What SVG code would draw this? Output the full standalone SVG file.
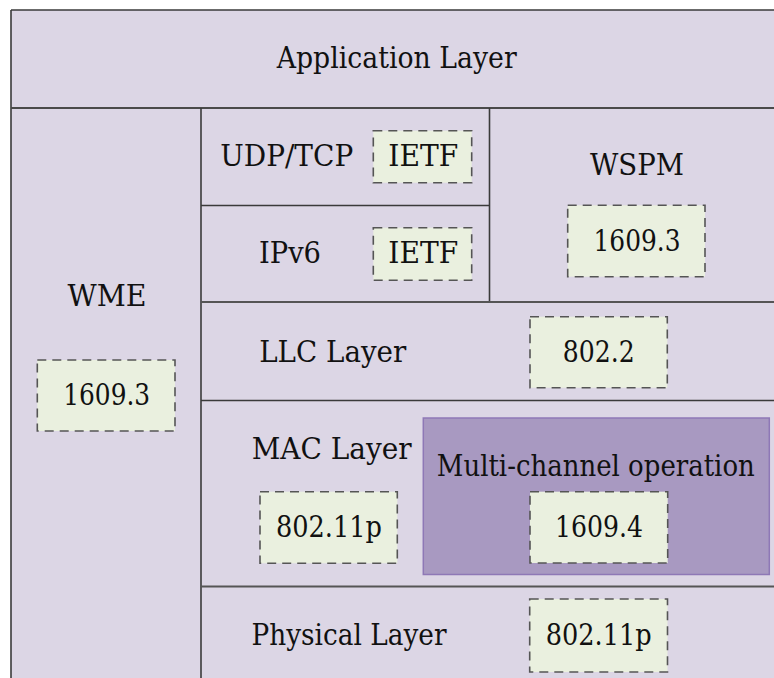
<svg xmlns="http://www.w3.org/2000/svg" width="774" height="678" viewBox="0 0 774 678">
  <style>
    .bg { fill: #DCD6E5; }
    .div { stroke: #3a3a3a; stroke-width: 1.6; fill: none; }
    .std { fill: #EAF0DF; stroke: #555555; stroke-width: 1.6; stroke-dasharray: 9 6; }
    .mco { fill: #A899C1; stroke: #8E78B6; stroke-width: 1.5; }
    text { font-family: "DejaVu Serif", serif; font-size: 30px; fill: #111111; text-anchor: middle; }
  </style>
  <rect class="bg" x="11" y="10" width="763" height="668"/>
  <g id="connectors">
    <line class="div" x1="11" y1="10" x2="774" y2="10"/>
    <line class="div" x1="11" y1="10" x2="11" y2="678"/>
    <line class="div" x1="11" y1="108" x2="774" y2="108" style="stroke:#4a4a4a;stroke-width:2"/>
    <line class="div" x1="201" y1="108" x2="201" y2="678"/>
    <line class="div" x1="201" y1="205.5" x2="489.5" y2="205.5"/>
    <line class="div" x1="489.5" y1="108" x2="489.5" y2="302"/>
    <line class="div" x1="201" y1="302" x2="774" y2="302" style="stroke:#555555;stroke-width:2"/>
    <line class="div" x1="201" y1="400.5" x2="774" y2="400.5"/>
    <line class="div" x1="201" y1="586.5" x2="774" y2="586.5" style="stroke:#555555;stroke-width:2"/>
  </g>
  <g id="application">
    <text x="396.7" y="68.3" textLength="240" lengthAdjust="spacingAndGlyphs">Application Layer</text>
  </g>
  <g id="wme">
    <text x="107" y="306" textLength="79" lengthAdjust="spacingAndGlyphs">WME</text>
    <rect class="std" x="37.3" y="360" width="137.7" height="71"/>
    <text x="106.7" y="405" textLength="87" lengthAdjust="spacingAndGlyphs">1609.3</text>
  </g>
  <g id="udptcp">
    <text x="286.7" y="165.7" textLength="133" lengthAdjust="spacingAndGlyphs">UDP/TCP</text>
    <rect class="std" x="373.3" y="130.7" width="98.4" height="52"/>
    <text x="423.3" y="165.7" textLength="70" lengthAdjust="spacingAndGlyphs">IETF</text>
  </g>
  <g id="ipv6">
    <text x="290" y="263.3" textLength="62" lengthAdjust="spacingAndGlyphs">IPv6</text>
    <rect class="std" x="373.3" y="227.7" width="98.4" height="52.6"/>
    <text x="423.3" y="263.3" textLength="70" lengthAdjust="spacingAndGlyphs">IETF</text>
  </g>
  <g id="wspm">
    <text x="637" y="175" textLength="94" lengthAdjust="spacingAndGlyphs">WSPM</text>
    <rect class="std" x="567.7" y="205.3" width="137.3" height="71.4"/>
    <text x="637" y="250.7" textLength="87" lengthAdjust="spacingAndGlyphs">1609.3</text>
  </g>
  <g id="llc">
    <text x="332.7" y="361.7" textLength="147" lengthAdjust="spacingAndGlyphs">LLC Layer</text>
    <rect class="std" x="530" y="316.7" width="137.3" height="71"/>
    <text x="598.8" y="361.7" textLength="72" lengthAdjust="spacingAndGlyphs">802.2</text>
  </g>
  <g id="mac">
    <text x="331.7" y="459.3" textLength="160" lengthAdjust="spacingAndGlyphs">MAC Layer</text>
    <rect class="std" x="260" y="491.7" width="137.3" height="71.6"/>
    <text x="329" y="536.7" textLength="106" lengthAdjust="spacingAndGlyphs">802.11p</text>
  </g>
  <g id="multichannel">
    <rect class="mco" x="423.3" y="418" width="346" height="156.5"/>
    <text x="595.8" y="475.7" textLength="318" lengthAdjust="spacingAndGlyphs">Multi-channel operation</text>
    <rect class="std" x="530" y="491.7" width="137.7" height="71.3"/>
    <text x="599" y="536.7" textLength="88" lengthAdjust="spacingAndGlyphs">1609.4</text>
  </g>
  <g id="physical">
    <text x="349" y="645" textLength="195" lengthAdjust="spacingAndGlyphs">Physical Layer</text>
    <rect class="std" x="529.7" y="599" width="137.8" height="73"/>
    <text x="598.7" y="645" textLength="106" lengthAdjust="spacingAndGlyphs">802.11p</text>
  </g>
</svg>
